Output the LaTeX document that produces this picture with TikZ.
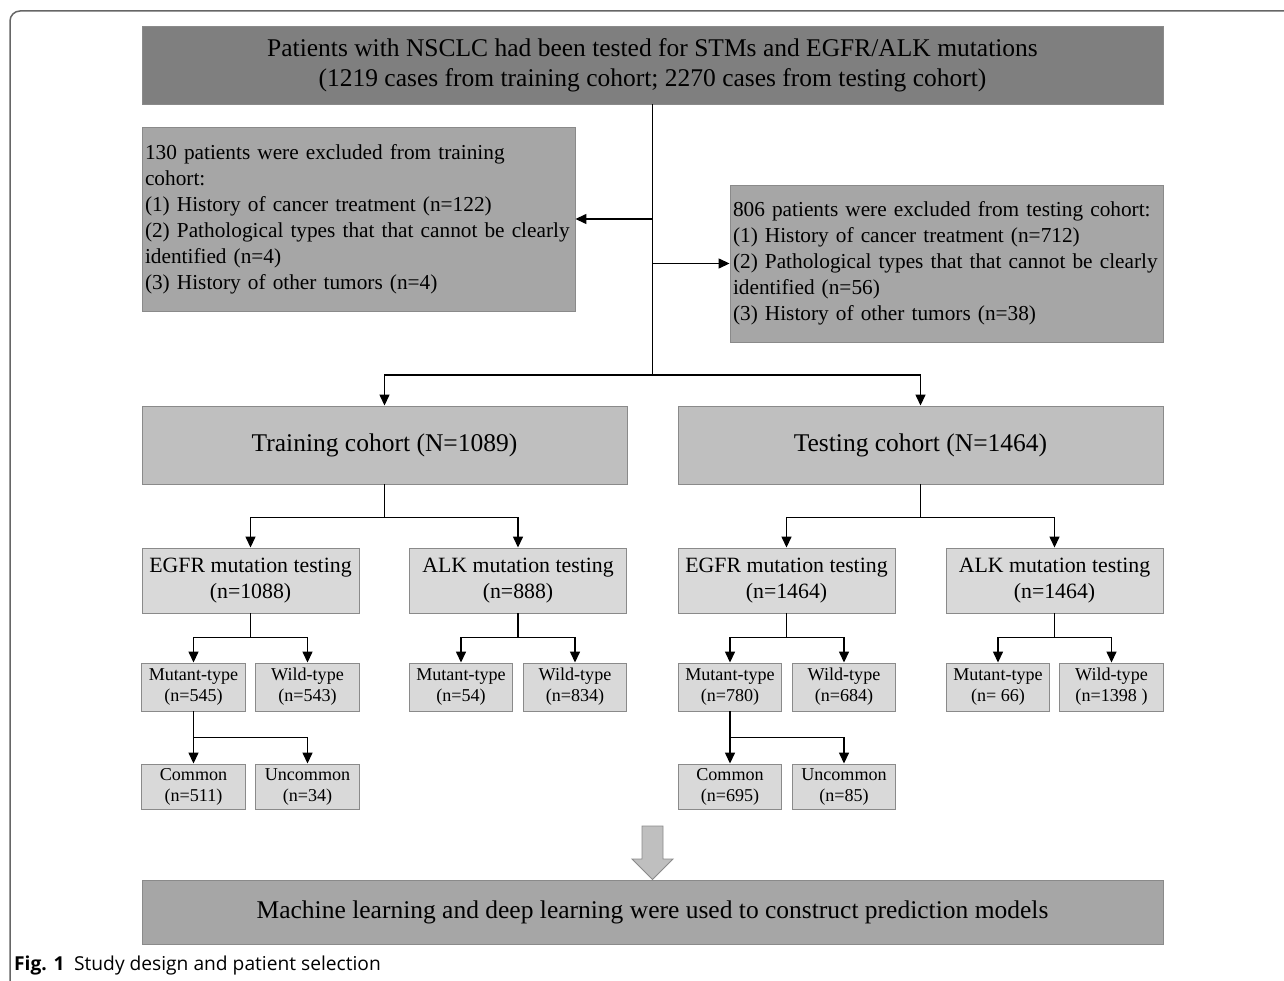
\documentclass[tikz,border=0pt]{standalone}
\usepackage{fontspec}
\setmainfont{Liberation Serif}
\newfontfamily\capfont{Open Sans}
\usetikzlibrary{arrows.meta}

\definecolor{darkfill}{HTML}{7F7F7F}
\definecolor{midfill}{HTML}{A6A6A6}
\definecolor{lightfill}{HTML}{BFBFBF}
\definecolor{palefill}{HTML}{D9D9D9}
\definecolor{boxedge}{HTML}{8A8A8A}
\definecolor{frameedge}{HTML}{666666}

\tikzset{
  box/.style={draw=boxedge, line width=0.9pt, inner sep=0pt, align=center},
  bigtext/.style={font=\fontsize{25.5}{30}\selectfont},
  midtext/.style={font=\fontsize{21.8}{26}\selectfont},
  excltext/.style={font=\fontsize{21.3}{26}\selectfont},
  smalltext/.style={font=\fontsize{18.1}{21}\selectfont},
  headbox/.style={box, bigtext, fill=darkfill, minimum width=1021, minimum height=78},
  exclbox/.style={box, excltext, fill=midfill, align=left, inner xsep=3pt, text width=427, minimum height=#1},
  cohortbox/.style={box, bigtext, fill=lightfill, minimum width=485, minimum height=78},
  testbox/.style={box, midtext, fill=palefill, minimum width=217, minimum height=65},
  typebox/.style={box, smalltext, fill=palefill, minimum width=103.5, minimum height=#1},
  link/.style={line width=1.4pt},
  arr/.style={link, -{Triangle[length=11pt,width=10pt]}}
}

\begin{document}
\begin{tikzpicture}[x=1pt,y=-1pt]
  \useasboundingbox (0,0) rectangle (1284,981);

  % frame
  \draw[frameedge, line width=1.5pt, rounded corners=10pt] (10,981) -- (10,11) -- (1284,11);

  % top and exclusions
  \node[headbox] (patients) at (652.5,65) {Patients with NSCLC had been tested for STMs and EGFR/ALK mutations\\(1219 cases from training cohort; 2270 cases from testing cohort)};
  \node[exclbox=184] (exclTrain) at (358.5,219) {130 patients were excluded from training\\cohort:\\(1) History of cancer treatment (n=122)\\(2) Pathological types that that cannot be clearly\\identified (n=4)\\(3) History of other tumors (n=4)};
  \node[exclbox=157] (exclTest) at (946.5,263.5) {806 patients were excluded from testing cohort:\\(1) History of cancer treatment (n=712)\\(2) Pathological types that that cannot be clearly\\identified (n=56)\\(3) History of other tumors (n=38)};

  % cohorts
  \node[cohortbox] (train) at (384.5,445) {Training cohort (N=1089)};
  \node[cohortbox] (test)  at (920.5,445) {Testing cohort (N=1464)};

  % mutation testing
  \node[testbox] (egfrTrain) at (250.5,580.5) {EGFR mutation testing\\(n=1088)};
  \node[testbox] (alkTrain)  at (518,580.5)   {ALK mutation testing\\(n=888)};
  \node[testbox] (egfrTest)  at (786.5,580.5) {EGFR mutation testing\\(n=1464)};
  \node[testbox] (alkTest)   at (1054.5,580.5) {ALK mutation testing\\(n=1464)};

  % mutant / wild
  \node[typebox=48] (mutEgfrTrain)  at (193.5,687) {Mutant-type\\(n=545)};
  \node[typebox=48] (wildEgfrTrain) at (307.5,687) {Wild-type\\(n=543)};
  \node[typebox=48] (mutAlkTrain)   at (461,687)   {Mutant-type\\(n=54)};
  \node[typebox=48] (wildAlkTrain)  at (575,687)   {Wild-type\\(n=834)};
  \node[typebox=48] (mutEgfrTest)   at (730,687)   {Mutant-type\\(n=780)};
  \node[typebox=48] (wildEgfrTest)  at (844,687)   {Wild-type\\(n=684)};
  \node[typebox=48] (mutAlkTest)    at (998,687)   {Mutant-type\\(n= 66)};
  \node[typebox=48] (wildAlkTest)   at (1111.5,687) {Wild-type\\(n=1398 )};

  % common / uncommon
  \node[typebox=45] (comTrain) at (193.5,786.5) {Common\\(n=511)};
  \node[typebox=45] (uncTrain) at (307.5,786.5) {Uncommon\\(n=34)};
  \node[typebox=45] (comTest)  at (730,786.5)   {Common\\(n=695)};
  \node[typebox=45] (uncTest)  at (844,786.5)   {Uncommon\\(n=85)};

  % final
  \node[box, font=\fontsize{25.5}{30}\selectfont, fill=midfill, minimum width=1021, minimum height=64] (models) at (652.5,912) {Machine learning and deep learning were used to construct prediction models};

  % connectors
  \coordinate (hub) at (patients.south |- 0,375);
  \draw[link] (patients.south) -- (hub);
  \draw[arr] (patients.south |- exclTrain.east) -- (exclTrain.east);
  \draw[arr] (patients.south |- exclTest.west) -- (exclTest.west);
  \draw[arr] (hub) -| (train.north);
  \draw[arr] (hub) -| (test.north);

  \draw[link] (train.south) -- ++(0,33) coordinate (trainSplit);
  \draw[arr] (trainSplit) -| (egfrTrain.north);
  \draw[arr] (trainSplit) -| (alkTrain.north);
  \draw[link] (test.south) -- ++(0,33) coordinate (testSplit);
  \draw[arr] (testSplit) -| (egfrTest.north);
  \draw[arr] (testSplit) -| (alkTest.north);

  \draw[link] (egfrTrain.south) -- ++(0,24) coordinate (egfrTrainSplit);
  \draw[arr] (egfrTrainSplit) -| (mutEgfrTrain.north);
  \draw[arr] (egfrTrainSplit) -| (wildEgfrTrain.north);
  \draw[link] (alkTrain.south) -- ++(0,24) coordinate (alkTrainSplit);
  \draw[arr] (alkTrainSplit) -| (mutAlkTrain.north);
  \draw[arr] (alkTrainSplit) -| (wildAlkTrain.north);
  \draw[link] (egfrTest.south) -- ++(0,24) coordinate (egfrTestSplit);
  \draw[arr] (egfrTestSplit) -| (mutEgfrTest.north);
  \draw[arr] (egfrTestSplit) -| (wildEgfrTest.north);
  \draw[link] (alkTest.south) -- ++(0,24) coordinate (alkTestSplit);
  \draw[arr] (alkTestSplit) -| (mutAlkTest.north);
  \draw[arr] (alkTestSplit) -| (wildAlkTest.north);

  \draw[link] (mutEgfrTrain.south) -- ++(0,26) coordinate (mutTrainSplit);
  \draw[arr] (mutTrainSplit) -- (comTrain.north);
  \draw[arr] (mutTrainSplit) -| (uncTrain.north);
  \draw[link] (mutEgfrTest.south) -- ++(0,26) coordinate (mutTestSplit);
  \draw[arr] (mutTestSplit) -- (comTest.north);
  \draw[arr] (mutTestSplit) -| (uncTest.north);

  % block arrow to models
  \draw[boxedge, fill=lightfill, line width=0.9pt] (642,826) -- (663,826) -- (663,859) -- (673,859)
    -- (models.north) -- (632,859) -- (642,859) -- cycle;

  % caption
  \node[anchor=west, inner sep=0pt, font=\capfont\fontsize{19.2}{23}\selectfont] (caption) at (14,966)
    {\textbf{Fig. 1}\hspace{0.5em}Study design and patient selection};
\end{tikzpicture}
\end{document}
